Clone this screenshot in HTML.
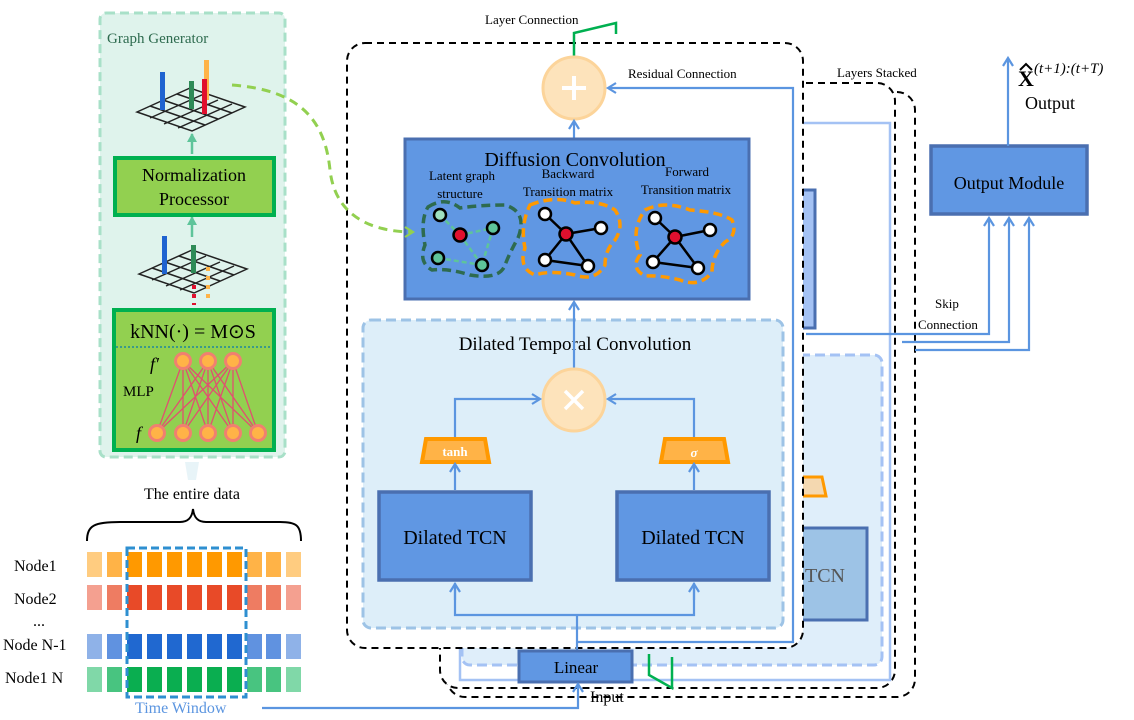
<!DOCTYPE html>
<html><head><meta charset="utf-8"><style>
html,body{margin:0;padding:0;background:#fff}
svg{display:block}
text{font-family:"Liberation Serif",serif;fill:#000}
</style></head><body>
<svg width="1134" height="720" viewBox="0 0 1134 720" xmlns="http://www.w3.org/2000/svg">
<defs>
<marker id="ab" markerWidth="12" markerHeight="12" refX="9" refY="6" orient="auto" markerUnits="userSpaceOnUse"><path d="M1,1 L9,6 L1,11" fill="none" stroke="#5b95e0" stroke-width="2.2"/></marker>
<marker id="ag" markerWidth="12" markerHeight="12" refX="9" refY="6" orient="auto" markerUnits="userSpaceOnUse"><path d="M1,1 L9,6 L1,11" fill="none" stroke="#92d050" stroke-width="2.2"/></marker>
<marker id="at" markerWidth="10" markerHeight="10" refX="8" refY="5" orient="auto" markerUnits="userSpaceOnUse"><path d="M0,0 L9,5 L0,10 z" fill="#5ec49a"/></marker>
</defs>

<rect x="447" y="92" width="468" height="605" rx="18" fill="#fff" stroke="#000" stroke-width="2" stroke-dasharray="7,5"/>
<rect x="440" y="83" width="455" height="605" rx="18" fill="#fff" stroke="#000" stroke-width="2" stroke-dasharray="7,5"/>
<rect x="460" y="123" width="430" height="557" fill="none" stroke="#a4c2f4" stroke-width="2.5"/>
<rect x="462" y="355" width="420" height="310" rx="8" fill="#dfeefa" stroke="#a4c2f4" stroke-width="3" stroke-dasharray="10,5"/>
<rect x="800" y="190" width="15" height="138" fill="#a4c2f4" stroke="#4a6fb0" stroke-width="3"/>
<path d="M798,477 L822,477 L826,496 L798,496 Z" fill="#f4d8b0" stroke="#ff9900" stroke-width="3"/>
<rect x="795" y="528" width="72" height="92" fill="#9dc3e6" stroke="#4a6fb0" stroke-width="3"/>
<text x="805" y="582" font-size="20" style="fill:#555">TCN</text>
<text x="837" y="77" font-size="13">Layers  Stacked</text>

<rect x="347" y="43" width="456" height="605" rx="18" fill="#fff" stroke="#000" stroke-width="2" stroke-dasharray="7,5"/>
<rect x="363" y="320" width="420" height="308" rx="8" fill="#ddeef9" stroke="#9dc3e6" stroke-width="3" stroke-dasharray="10,5"/>

<polyline points="574,56 574,33 616,23 616,34" fill="none" stroke="#00b050" stroke-width="2.5"/>
<text x="485" y="24" font-size="13">Layer Connection</text>
<circle cx="574" cy="88" r="31" fill="#fde3bb" stroke="#fcd49a" stroke-width="3"/>
<path d="M574,76 V100 M562,88 H586" stroke="#fff" stroke-width="4"/>
<text x="628" y="78" font-size="13">Residual  Connection</text>
<polyline points="577,642 793,642 793,88 608,88" fill="none" stroke="#5b95e0" stroke-width="2.2" marker-end="url(#ab)"/>
<line x1="574" y1="138" x2="574" y2="121" stroke="#5b95e0" stroke-width="2.2" marker-end="url(#ab)"/>

<rect x="405" y="139" width="344" height="160" fill="#6097e3" stroke="#4a6fb0" stroke-width="3"/>
<text x="575" y="166" font-size="20" text-anchor="middle">Diffusion Convolution</text>
<text x="462" y="180" font-size="13" text-anchor="middle">Latent graph</text>
<text x="460" y="198" font-size="13" text-anchor="middle">structure</text>
<text x="568" y="178" font-size="13" text-anchor="middle">Backward</text>
<text x="568" y="196" font-size="13" text-anchor="middle">Transition  matrix</text>
<text x="687" y="176" font-size="13" text-anchor="middle">Forward</text>
<text x="686" y="194" font-size="13" text-anchor="middle">Transition  matrix</text>
<path d="M428,207 Q445,196 460,208 Q480,205 505,205 Q528,212 518,238 Q510,252 505,265 Q500,280 470,275 Q448,268 432,270 Q418,262 425,245 Q420,220 428,207 Z" fill="none" stroke="#2e6b4f" stroke-width="3.5" stroke-dasharray="9,5"/>
<g stroke="#5ec49a" stroke-width="2.5" stroke-dasharray="5,3"><line x1="440" y1="215" x2="460" y2="235"/><line x1="460" y1="235" x2="493" y2="228"/><line x1="460" y1="235" x2="482" y2="265"/><line x1="438" y1="258" x2="482" y2="265"/><line x1="493" y1="228" x2="482" y2="265"/></g>
<g stroke="#000" stroke-width="2.5"><circle cx="440" cy="215" r="6" fill="#9fe0c0"/><circle cx="493" cy="228" r="6" fill="#5ec49a"/><circle cx="438" cy="258" r="6" fill="#5ec49a"/><circle cx="482" cy="265" r="6" fill="#5ec49a"/><circle cx="460" cy="235" r="6.5" fill="#e0102e"/></g>
<path d="M530,205 Q555,195 575,203 Q600,200 615,210 Q625,225 615,240 Q605,250 605,265 Q595,282 575,275 Q550,270 535,275 Q518,268 525,248 Q520,225 530,205 Z" fill="none" stroke="#ff9900" stroke-width="3.5" stroke-dasharray="9,5"/>
<g stroke="#000" stroke-width="2.5"><line x1="545" y1="214" x2="566" y2="234"/><line x1="566" y1="234" x2="601" y2="228"/><line x1="566" y1="234" x2="545" y2="260"/><line x1="566" y1="234" x2="588" y2="266"/><line x1="545" y1="260" x2="588" y2="266"/></g>
<g stroke="#000" stroke-width="2.5"><circle cx="545" cy="214" r="6" fill="#fff"/><circle cx="601" cy="228" r="6" fill="#fff"/><circle cx="545" cy="260" r="6" fill="#fff"/><circle cx="588" cy="266" r="6" fill="#fff"/><circle cx="566" cy="234" r="6.5" fill="#e0102e"/></g>
<path d="M645,210 Q665,200 690,210 Q720,212 732,220 Q738,235 725,242 Q712,255 712,272 Q700,288 680,280 Q660,275 645,276 Q630,268 640,255 Q630,230 645,210 Z" fill="none" stroke="#ff9900" stroke-width="3.5" stroke-dasharray="9,5"/>
<g stroke="#000" stroke-width="2.5"><line x1="655" y1="218" x2="675" y2="237"/><line x1="675" y1="237" x2="710" y2="230"/><line x1="675" y1="237" x2="653" y2="262"/><line x1="675" y1="237" x2="698" y2="268"/><line x1="653" y1="262" x2="698" y2="268"/></g>
<g stroke="#000" stroke-width="2.5"><circle cx="655" cy="218" r="6" fill="#fff"/><circle cx="710" cy="230" r="6" fill="#fff"/><circle cx="653" cy="262" r="6" fill="#fff"/><circle cx="698" cy="268" r="6" fill="#fff"/><circle cx="675" cy="237" r="6.5" fill="#e0102e"/></g>

<line x1="574" y1="320" x2="574" y2="302" stroke="#5b95e0" stroke-width="2.2" marker-end="url(#ab)"/>

<text x="575" y="350" font-size="19" text-anchor="middle">Dilated  Temporal  Convolution</text>
<line x1="574" y1="320" x2="574" y2="368" stroke="#5b95e0" stroke-width="2.2"/>
<circle cx="574" cy="400" r="31" fill="#fde3bb" stroke="#fcd49a" stroke-width="3"/>
<path d="M565,391 L583,409 M583,391 L565,409" stroke="#fff" stroke-width="3.5"/>
<polyline points="455,438 455,399 540,399" fill="none" stroke="#5b95e0" stroke-width="2.2" marker-end="url(#ab)"/>
<polyline points="694,438 694,399 608,399" fill="none" stroke="#5b95e0" stroke-width="2.2" marker-end="url(#ab)"/>
<path d="M426,439 L485,439 L489,462 L422,462 Z" fill="#ffb347" stroke="#ff9900" stroke-width="4"/>
<text x="455" y="456" font-size="13" font-weight="bold" text-anchor="middle" style="fill:#fff">tanh</text>
<path d="M665,439 L724,439 L728,462 L661,462 Z" fill="#ffb347" stroke="#ff9900" stroke-width="4"/>
<text x="694" y="457" font-size="13" font-weight="bold" font-style="italic" text-anchor="middle" style="fill:#fff">σ</text>
<line x1="455" y1="490" x2="455" y2="464" stroke="#5b95e0" stroke-width="2.2" marker-end="url(#ab)"/>
<line x1="694" y1="490" x2="694" y2="464" stroke="#5b95e0" stroke-width="2.2" marker-end="url(#ab)"/>
<rect x="379" y="492" width="152" height="88" fill="#6097e3" stroke="#4a6fb0" stroke-width="3.5"/>
<text x="455" y="544" font-size="20" text-anchor="middle">Dilated  TCN</text>
<rect x="617" y="492" width="152" height="88" fill="#6097e3" stroke="#4a6fb0" stroke-width="3.5"/>
<text x="693" y="544" font-size="20" text-anchor="middle">Dilated  TCN</text>
<polyline points="455,583 455,615 694,615 694,583" fill="none" stroke="#5b95e0" stroke-width="2.2"/>
<line x1="455" y1="600" x2="455" y2="584" stroke="#5b95e0" stroke-width="2.2" marker-end="url(#ab)"/>
<line x1="694" y1="600" x2="694" y2="584" stroke="#5b95e0" stroke-width="2.2" marker-end="url(#ab)"/>
<line x1="577" y1="615" x2="577" y2="651" stroke="#5b95e0" stroke-width="2.2"/>

<rect x="519" y="651" width="113" height="31" fill="#6097e3" stroke="#4a6fb0" stroke-width="3"/>
<text x="576" y="673" font-size="17" text-anchor="middle">Linear</text>
<text x="590" y="702" font-size="16">Input</text>
<polyline points="649,654 649,675 672,688 672,657" fill="none" stroke="#00b050" stroke-width="2.5"/>
<polyline points="262,708 578,708 578,684" fill="none" stroke="#5b95e0" stroke-width="2.2" marker-end="url(#ab)"/>

<rect x="931" y="146" width="156" height="68" fill="#6097e3" stroke="#4a6fb0" stroke-width="3.5"/>
<text x="1009" y="189" font-size="18" text-anchor="middle">Output Module</text>
<line x1="1008" y1="146" x2="1008" y2="58" stroke="#5b95e0" stroke-width="2.2" marker-end="url(#ab)"/>
<text x="1018" y="86" font-size="22" font-weight="bold">X</text>
<path d="M1020,70 L1026,64 L1032,70" fill="none" stroke="#000" stroke-width="2"/>
<text x="1034" y="73" font-size="15" font-style="italic">(t+1):(t+T)</text>
<text x="1025" y="109" font-size="18">Output</text>
<polyline points="806,334 989,334 989,218" fill="none" stroke="#5b95e0" stroke-width="2.2" marker-end="url(#ab)"/>
<polyline points="902,342 1009,342 1009,218" fill="none" stroke="#5b95e0" stroke-width="2.2" marker-end="url(#ab)"/>
<polyline points="915,350 1029,350 1029,218" fill="none" stroke="#5b95e0" stroke-width="2.2" marker-end="url(#ab)"/>
<text x="935" y="308" font-size="13">Skip</text>
<text x="918" y="329" font-size="13">Connection</text>

<rect x="100" y="13" width="185" height="444" rx="6" fill="#dff3ec" stroke="#a8e0c8" stroke-width="3" stroke-dasharray="9,5"/>
<text x="107" y="43" font-size="15" style="fill:#2e6b4f">Graph Generator</text>
<g stroke="#222" stroke-width="1.5" fill="none">
<path d="M137,112 L190,88 L245,107 L192,131 Z M150,106 L205,125 M163,100 L218,119 M177,94 L232,113 M150,118 L204,94 M164,124 L218,100 M178,128 L232,104"/>
<path d="M139,274 L192,250 L247,269 L194,293 Z M152,268 L207,287 M165,262 L220,281 M179,256 L234,275 M152,280 L206,256 M166,286 L220,262 M180,290 L234,266"/>
</g>
<rect x="160" y="72" width="5" height="38" fill="#1f63d0"/>
<rect x="189" y="81" width="5" height="28" fill="#2e8b57"/>
<rect x="204" y="60" width="5" height="40" fill="#ffb347"/>
<rect x="202" y="79" width="5" height="35" fill="#e0102e"/>
<rect x="162" y="236" width="5" height="38" fill="#1f63d0"/>
<rect x="191" y="245" width="5" height="28" fill="#2e8b57"/>
<path d="M194,285 V305" stroke="#e0102e" stroke-width="4" stroke-dasharray="4,5"/>
<path d="M208,267 V300" stroke="#ffb347" stroke-width="4" stroke-dasharray="4,5"/>
<line x1="192" y1="154" x2="192" y2="134" stroke="#5ec49a" stroke-width="2.5" marker-end="url(#at)"/>
<line x1="192" y1="237" x2="192" y2="217" stroke="#5ec49a" stroke-width="2.5" marker-end="url(#at)"/>
<rect x="115" y="158" width="159" height="57" fill="#92d050" stroke="#00b050" stroke-width="4"/>
<text x="194" y="181" font-size="18" text-anchor="middle">Normalization</text>
<text x="194" y="205" font-size="18" text-anchor="middle">Processor</text>
<rect x="114" y="310" width="160" height="140" fill="#92d050" stroke="#00b050" stroke-width="4"/>
<text x="193" y="338" font-size="20" text-anchor="middle">kNN(·) = M⊙S</text>
<line x1="116" y1="347" x2="272" y2="347" stroke="#3a9a8a" stroke-width="2" stroke-dasharray="2,2"/>
<g stroke="#e05070" stroke-width="1.3">
<path d="M157,433 L183,361 M157,433 L208,361 M157,433 L233,361 M183,433 L183,361 M183,433 L208,361 M183,433 L233,361 M208,433 L183,361 M208,433 L208,361 M208,433 L233,361 M233,433 L183,361 M233,433 L208,361 M233,433 L233,361 M258,433 L183,361 M258,433 L208,361 M258,433 L233,361"/>
</g>
<g fill="#ffb347" stroke="#f08070" stroke-width="3">
<circle cx="183" cy="361" r="7.5"/><circle cx="208" cy="361" r="7.5"/><circle cx="233" cy="361" r="7.5"/>
<circle cx="157" cy="433" r="7.5"/><circle cx="183" cy="433" r="7.5"/><circle cx="208" cy="433" r="7.5"/><circle cx="233" cy="433" r="7.5"/><circle cx="258" cy="433" r="7.5"/>
</g>
<text x="150" y="370" font-size="18" font-style="italic">f′</text>
<text x="123" y="396" font-size="15">MLP</text>
<text x="136" y="439" font-size="18" font-style="italic">f</text>

<path d="M232,85 C300,90 325,120 330,170 C335,215 370,232 413,232" fill="none" stroke="#92d050" stroke-width="3" stroke-dasharray="9,6" marker-end="url(#ag)"/>

<path d="M185,462 L199,462 L196,480 L188,480 Z" fill="#e8f4f8"/>
<text x="192" y="499" font-size="16" text-anchor="middle">The entire data</text>
<path d="M87,541 C87,525 95,522 120,522 L180,522 C188,522 192,518 193,509 C194,518 198,522 206,522 L280,522 C296,522 301,525 301,541" fill="none" stroke="#000" stroke-width="2"/>
<g>
<g fill="#ffcc80"><rect x="87" y="552" width="15" height="25"/><rect x="286" y="552" width="15" height="25"/></g>
<g fill="#ffb347"><rect x="107" y="552" width="15" height="25"/><rect x="266" y="552" width="15" height="25"/><rect x="247" y="552" width="15" height="25"/></g>
<g fill="#ff9900"><rect x="127" y="552" width="15" height="25"/><rect x="147" y="552" width="15" height="25"/><rect x="167" y="552" width="15" height="25"/><rect x="187" y="552" width="15" height="25"/><rect x="207" y="552" width="15" height="25"/><rect x="227" y="552" width="15" height="25"/></g>
<g fill="#f4a090"><rect x="87" y="585" width="15" height="25"/><rect x="286" y="585" width="15" height="25"/></g>
<g fill="#ee7c62"><rect x="107" y="585" width="15" height="25"/><rect x="266" y="585" width="15" height="25"/><rect x="247" y="585" width="15" height="25"/></g>
<g fill="#e84a28"><rect x="127" y="585" width="15" height="25"/><rect x="147" y="585" width="15" height="25"/><rect x="167" y="585" width="15" height="25"/><rect x="187" y="585" width="15" height="25"/><rect x="207" y="585" width="15" height="25"/><rect x="227" y="585" width="15" height="25"/></g>
<g fill="#8fb2e8"><rect x="87" y="634" width="15" height="25"/><rect x="286" y="634" width="15" height="25"/></g>
<g fill="#6092e0"><rect x="107" y="634" width="15" height="25"/><rect x="266" y="634" width="15" height="25"/><rect x="247" y="634" width="15" height="25"/></g>
<g fill="#2068d0"><rect x="127" y="634" width="15" height="25"/><rect x="147" y="634" width="15" height="25"/><rect x="167" y="634" width="15" height="25"/><rect x="187" y="634" width="15" height="25"/><rect x="207" y="634" width="15" height="25"/><rect x="227" y="634" width="15" height="25"/></g>
<g fill="#80d8a8"><rect x="87" y="667" width="15" height="25"/><rect x="286" y="667" width="15" height="25"/></g>
<g fill="#48c480"><rect x="107" y="667" width="15" height="25"/><rect x="266" y="667" width="15" height="25"/><rect x="247" y="667" width="15" height="25"/></g>
<g fill="#0aae50"><rect x="127" y="667" width="15" height="25"/><rect x="147" y="667" width="15" height="25"/><rect x="167" y="667" width="15" height="25"/><rect x="187" y="667" width="15" height="25"/><rect x="207" y="667" width="15" height="25"/><rect x="227" y="667" width="15" height="25"/></g>
</g>
<rect x="127" y="548" width="119" height="149" fill="none" stroke="#2e8fd0" stroke-width="3" stroke-dasharray="8,4"/>
<text x="135" y="713" font-size="16" style="fill:#5b95e0">Time Window</text>
<text x="14" y="571" font-size="16">Node1</text>
<text x="14" y="604" font-size="16">Node2</text>
<text x="33" y="626" font-size="16">...</text>
<text x="3" y="650" font-size="16">Node N-1</text>
<text x="5" y="683" font-size="16">Node1 N</text>
</svg>
</body></html>
